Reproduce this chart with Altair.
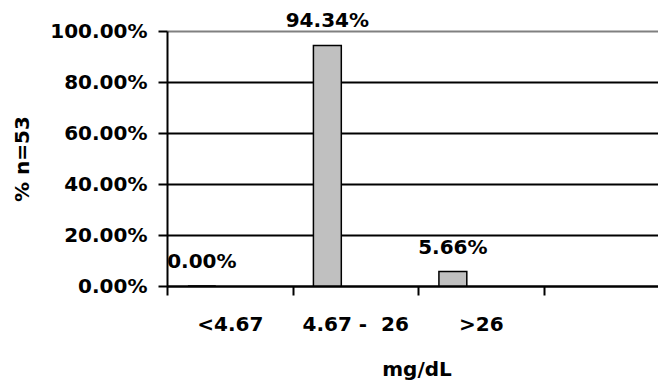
import altair as alt
import pandas as pd

categories = ["<4.67", "4.67 - \u00a026", ">26", " "]
bar_categories = ["<4.67", "4.67 - \u00a026", ">26"]
values = [0.0, 0.9434, 0.0566]
series = ["s1", "s1", "s1"]
series_slots = ["s1", "s2", "s3"]
y_ticks = [0.0, 0.2, 0.4, 0.6, 0.8, 1.0]

df = pd.DataFrame({"cat": bar_categories, "value": values, "series": series})

FONT = "DejaVu Sans"

x_enc = alt.X(
    "cat:N",
    sort=categories,
    scale=alt.Scale(domain=categories, range=[0, 502], paddingInner=0, paddingOuter=0),
    axis=alt.Axis(
        title="mg/dL",
        labelAngle=0,
        tickBand="extent",
        domainColor="black",
        domainWidth=2,
        tickColor="black",
        tickWidth=2,
        tickSize=9,
        labelPadding=19,
        labelFont=FONT,
        labelFontWeight="bold",
        labelFontSize=20,
        labelColor="black",
        titleFont=FONT,
        titleFontWeight="bold",
        titleFontSize=20,
        titleColor="black",
        titleBaseline="top",
        titleX=249.5,
        titleY=73,
        grid=False,
    ),
)
xoff_enc = alt.XOffset(
    "series:N",
    scale=alt.Scale(domain=series_slots, paddingOuter=0.75, paddingInner=0),
)
y_enc = alt.Y(
    "value:Q",
    scale=alt.Scale(domain=[0, 1], nice=False),
    axis=alt.Axis(
        title="% n=53",
        values=y_ticks,
        format=".2%",
        grid=True,
        gridColor={"condition": {"test": "datum.value >= 1", "value": "#808080"}, "value": "black"},
        gridWidth=2,
        domainColor="black",
        domainWidth=2,
        tickColor="black",
        tickWidth=2,
        tickSize=9,
        labelPadding=11,
        labelFont=FONT,
        labelFontWeight="bold",
        labelFontSize=20,
        labelColor="black",
        titleFont=FONT,
        titleFontWeight="bold",
        titleFontSize=20,
        titleColor="black",
        titleAngle=270,
        titleBaseline="alphabetic",
        titleAlign="center",
        titleX=-139,
        titleY=127.5,
    ),
)

bars = alt.Chart(df).mark_bar(
    fill="#c0c0c0", stroke="black", strokeWidth=1.5
).encode(x=x_enc, xOffset=xoff_enc, y=y_enc)

labels = alt.Chart(df).mark_text(
    font=FONT, fontWeight="bold", fontSize=20, color="black",
    baseline="alphabetic", align="center", dy=-18
).encode(
    x=alt.X("cat:N", sort=categories, scale=alt.Scale(domain=categories, range=[0, 502], paddingInner=0, paddingOuter=0)),
    xOffset=xoff_enc,
    y=alt.Y("value:Q", scale=alt.Scale(domain=[0, 1], nice=False)),
    text=alt.Text("value:Q", format=".2%"),
)

chart = alt.layer(bars, labels).properties(
    width=491,
    height=255,
    autosize=alt.AutoSizeParams(type="none"),
    padding={"left": 167, "top": 31, "right": 0, "bottom": 99},
    background="white",
).configure_view(stroke=None)

chart.save("out.html", embed_options={"renderer": "svg", "actions": False})
